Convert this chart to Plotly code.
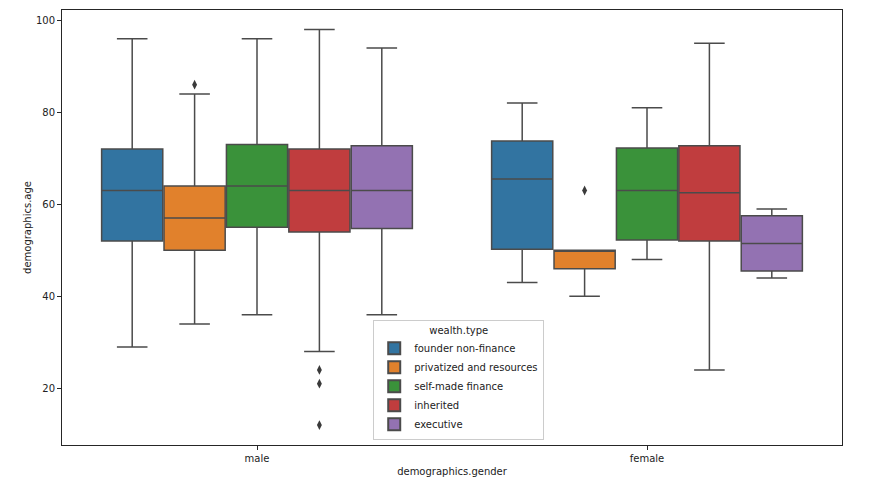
import plotly.graph_objects as go

genders = ["male", "female"]
wealth_types = ["founder non-finance", "privatized and resources", "self-made finance", "inherited", "executive"]
colors = ["#3274a1", "#e1812c", "#3a923a", "#c03d3e", "#9372b2"]

# per wealth type: [male, female]
lower = {
    "founder non-finance": [29, 43],
    "privatized and resources": [34, 40],
    "self-made finance": [36, 48],
    "inherited": [28, 24],
    "executive": [36, 44],
}
q1 = {
    "founder non-finance": [52, 50.25],
    "privatized and resources": [50, 46],
    "self-made finance": [55, 52.25],
    "inherited": [54, 52],
    "executive": [54.75, 45.5],
}
median = {
    "founder non-finance": [63, 65.5],
    "privatized and resources": [57, 50],
    "self-made finance": [64, 63],
    "inherited": [63, 62.5],
    "executive": [63, 51.5],
}
q3 = {
    "founder non-finance": [72, 73.75],
    "privatized and resources": [64, 50],
    "self-made finance": [73, 72.25],
    "inherited": [72, 72.75],
    "executive": [72.75, 57.5],
}
upper = {
    "founder non-finance": [96, 82],
    "privatized and resources": [84, 50],
    "self-made finance": [96, 81],
    "inherited": [98, 95],
    "executive": [94, 59],
}
# outliers: (gender index, value)
outliers = {
    "privatized and resources": [(0, 86), (1, 63)],
    "inherited": [(0, 24), (0, 21), (0, 12)],
}
y_ticks = [20, 40, 60, 80, 100]

n = len(wealth_types)
group_w = 0.8
box_w = group_w / n
offsets = [-group_w / 2 + box_w * (i + 0.5) for i in range(n)]
edge = "#4b4b4b"

fig = go.Figure()
for i, wt in enumerate(wealth_types):
    xs = [g + offsets[i] for g in range(len(genders))]
    fig.add_trace(go.Box(
        name=wt, x=xs,
        q1=q1[wt], median=median[wt], q3=q3[wt],
        lowerfence=lower[wt], upperfence=upper[wt],
        width=box_w * 0.98, whiskerwidth=0.5,
        fillcolor=colors[i], line=dict(color=edge, width=1.5),
        boxpoints=False, hoverinfo="skip",
    ))
    if wt in outliers:
        ox = [gi + offsets[i] for gi, v in outliers[wt]]
        oy = [v for gi, v in outliers[wt]]
        fig.add_trace(go.Scatter(
            x=ox, y=oy, mode="markers", showlegend=False,
            marker=dict(symbol="diamond-tall", size=7, color="#3a3a3a"),
            hoverinfo="skip",
        ))

fig.update_layout(
    width=879, height=473,
    margin=dict(l=54, r=45, t=2, b=36),
    paper_bgcolor="white", plot_bgcolor="white",
    boxmode="overlay",
    font=dict(family="DejaVu Sans", size=10, color="#222222"),
    legend=dict(
        title=dict(text="wealth.type", side="top center", font=dict(size=10)),
        x=0.399, y=0.012, xanchor="left", yanchor="bottom",
        bgcolor="rgba(255,255,255,0.8)", bordercolor="#cccccc", borderwidth=1,
        font=dict(size=10), tracegroupgap=0, itemsizing="constant",
    ),
    showlegend=True,
)
fig.update_xaxes(
    range=[-0.5, 1.5], tickvals=list(range(len(genders))), ticktext=genders,
    showgrid=False, zeroline=False, showline=True, linecolor="#262626", linewidth=1,
    mirror=True, ticks="outside", ticklen=4, tickcolor="#262626",
    title=dict(text="demographics.gender", standoff=4, font=dict(size=10)),
)
fig.update_yaxes(
    range=[7.67, 102.24], tickvals=y_ticks,
    showgrid=False, zeroline=False, showline=True, linecolor="#262626", linewidth=1,
    mirror=True, ticks="outside", ticklen=4, tickcolor="#262626",
    title=dict(text="demographics.age", standoff=2, font=dict(size=10)),
)

fig.write_html("out.html")
